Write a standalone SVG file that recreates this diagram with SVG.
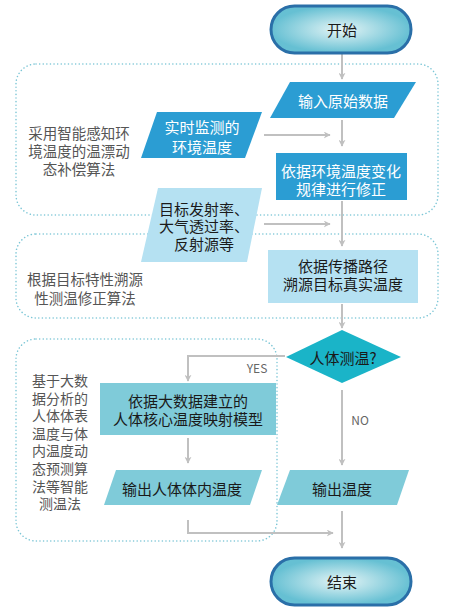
<svg xmlns="http://www.w3.org/2000/svg" width="451" height="610" viewBox="0 0 451 610">
<style>
text{font-family:"Noto Sans CJK SC","Noto Sans",sans-serif;text-anchor:middle;dominant-baseline:central}
.nw{font-size:15px;fill:#ffffff}
.nd{font-size:15px;fill:#1a1a1a}
.side{font-size:14.5px;fill:#555555}
.side3{font-size:14px;fill:#555555}
.lbl{font-size:12px;fill:#666666}
.grp{fill:none;stroke:#7cc6d6;stroke-width:1.5;stroke-dasharray:0.1 3.5;stroke-linecap:round}
.con{fill:none;stroke:#c0c0c0;stroke-width:2}
.term{stroke:#2a6fa8;stroke-width:3}
.blue{fill:#2b9dd3}
.light{fill:#b5e1f2}
.teal{fill:#7fcbd9}
</style>
<defs>
<radialGradient id="tg" cx="50%" cy="50%" r="50%">
<stop offset="0" stop-color="#e6f5f6"/>
<stop offset="1" stop-color="#66c0d3"/>
</radialGradient>
<marker id="ah" viewBox="0 0 10 10" refX="9" refY="5" markerWidth="7" markerHeight="7" orient="auto" markerUnits="userSpaceOnUse">
<path d="M0,0 L10,5 L0,10 L3,5 Z" fill="#c0c0c0"/>
</marker>
</defs>

<g id="groups">
<rect class="grp" x="16" y="64" width="422" height="151" rx="20"/>
<rect class="grp" x="16" y="234" width="422" height="84" rx="20"/>
<rect class="grp" x="16" y="339" width="261" height="202" rx="20"/>
</g>

<g id="side-texts">
<text class="side"><tspan x="79" y="132">采用智能感知环</tspan><tspan x="79" y="150">境温度的温漂动</tspan><tspan x="79" y="168">态补偿算法</tspan></text>
<text class="side"><tspan x="85" y="278">根据目标特性溯源</tspan><tspan x="85" y="297">性测温修正算法</tspan></text>
<text class="side3"><tspan x="60" y="380">基于大数</tspan><tspan x="60" y="397.6">据分析的</tspan><tspan x="60" y="415.2">人体体表</tspan><tspan x="60" y="432.8">温度与体</tspan><tspan x="60" y="450.4">内温度动</tspan><tspan x="60" y="468">态预测算</tspan><tspan x="60" y="485.6">法等智能</tspan><tspan x="60" y="503.2">测温法</tspan></text>
</g>

<g id="connectors">
<path class="con" d="M342,54 V79" marker-end="url(#ah)"/>
<path class="con" d="M342,120 V146" marker-end="url(#ah)"/>
<path class="con" d="M264,135 H330" marker-end="url(#ah)"/>
<path class="con" d="M342,201 V246" marker-end="url(#ah)"/>
<path class="con" d="M264,224 H330" marker-end="url(#ah)"/>
<path class="con" d="M342,304 V328" marker-end="url(#ah)"/>
<path class="con" d="M285,356 H188 V381" marker-end="url(#ah)"/>
<path class="con" d="M188,438 V463" marker-end="url(#ah)"/>
<path class="con" d="M342,390 V465" marker-end="url(#ah)"/>
<path class="con" d="M188,520 V533 H333" marker-end="url(#ah)"/>
<path class="con" d="M342,511 V548" marker-end="url(#ah)"/>
<text class="lbl" x="257" y="367">YES</text>
<text class="lbl" x="360" y="419">NO</text>
</g>

<g id="start">
<rect class="term" x="271" y="6" width="140" height="47" rx="23.5" fill="url(#tg)"/>
<text class="nd" x="342" y="29">开始</text>
</g>

<g id="input">
<polygon class="blue" points="290,82 416,82 394,118 270,118"/>
<text class="nw" x="343" y="100">输入原始数据</text>
</g>

<g id="env-temp">
<polygon class="blue" points="157,112 262,112 245,158 141,158"/>
<text class="nw"><tspan x="202" y="126">实时监测的</tspan><tspan x="202" y="146">环境温度</tspan></text>
</g>

<g id="correct">
<rect class="blue" x="276" y="153" width="131" height="47"/>
<text class="nw"><tspan x="341" y="170">依据环境温度变化</tspan><tspan x="341" y="188">规律进行修正</tspan></text>
</g>

<g id="target-params">
<polygon class="light" points="158,188 262,188 247,262 141,262"/>
<text class="nd"><tspan x="204" y="208">目标发射率、</tspan><tspan x="204" y="225">大气透过率、</tspan><tspan x="204" y="243">反射源等</tspan></text>
</g>

<g id="trace">
<rect class="light" x="268" y="250" width="150" height="53"/>
<text class="nd"><tspan x="343" y="265">依据传播路径</tspan><tspan x="343" y="283">溯源目标真实温度</tspan></text>
</g>

<g id="decision">
<polygon points="342,330 401,357 342,383 286,357" fill="#1ab4c8"/>
<text class="nd" x="343" y="357">人体测温?</text>
</g>

<g id="model">
<rect class="teal" x="100" y="383" width="176" height="52"/>
<text class="nd"><tspan x="188" y="400">依据大数据建立的</tspan><tspan x="188" y="418">人体核心温度映射模型</tspan></text>
</g>

<g id="out-body">
<polygon class="teal" points="116,470 262,470 250,505 104,505"/>
<text class="nd" x="182" y="488">输出人体体内温度</text>
</g>

<g id="out-temp">
<polygon class="teal" points="290,470 409,470 397,505 277,505"/>
<text class="nd" x="342" y="488">输出温度</text>
</g>

<g id="end">
<rect class="term" x="271" y="558" width="140" height="47" rx="23.5" fill="url(#tg)"/>
<text class="nd" x="342" y="581">结束</text>
</g>
</svg>
